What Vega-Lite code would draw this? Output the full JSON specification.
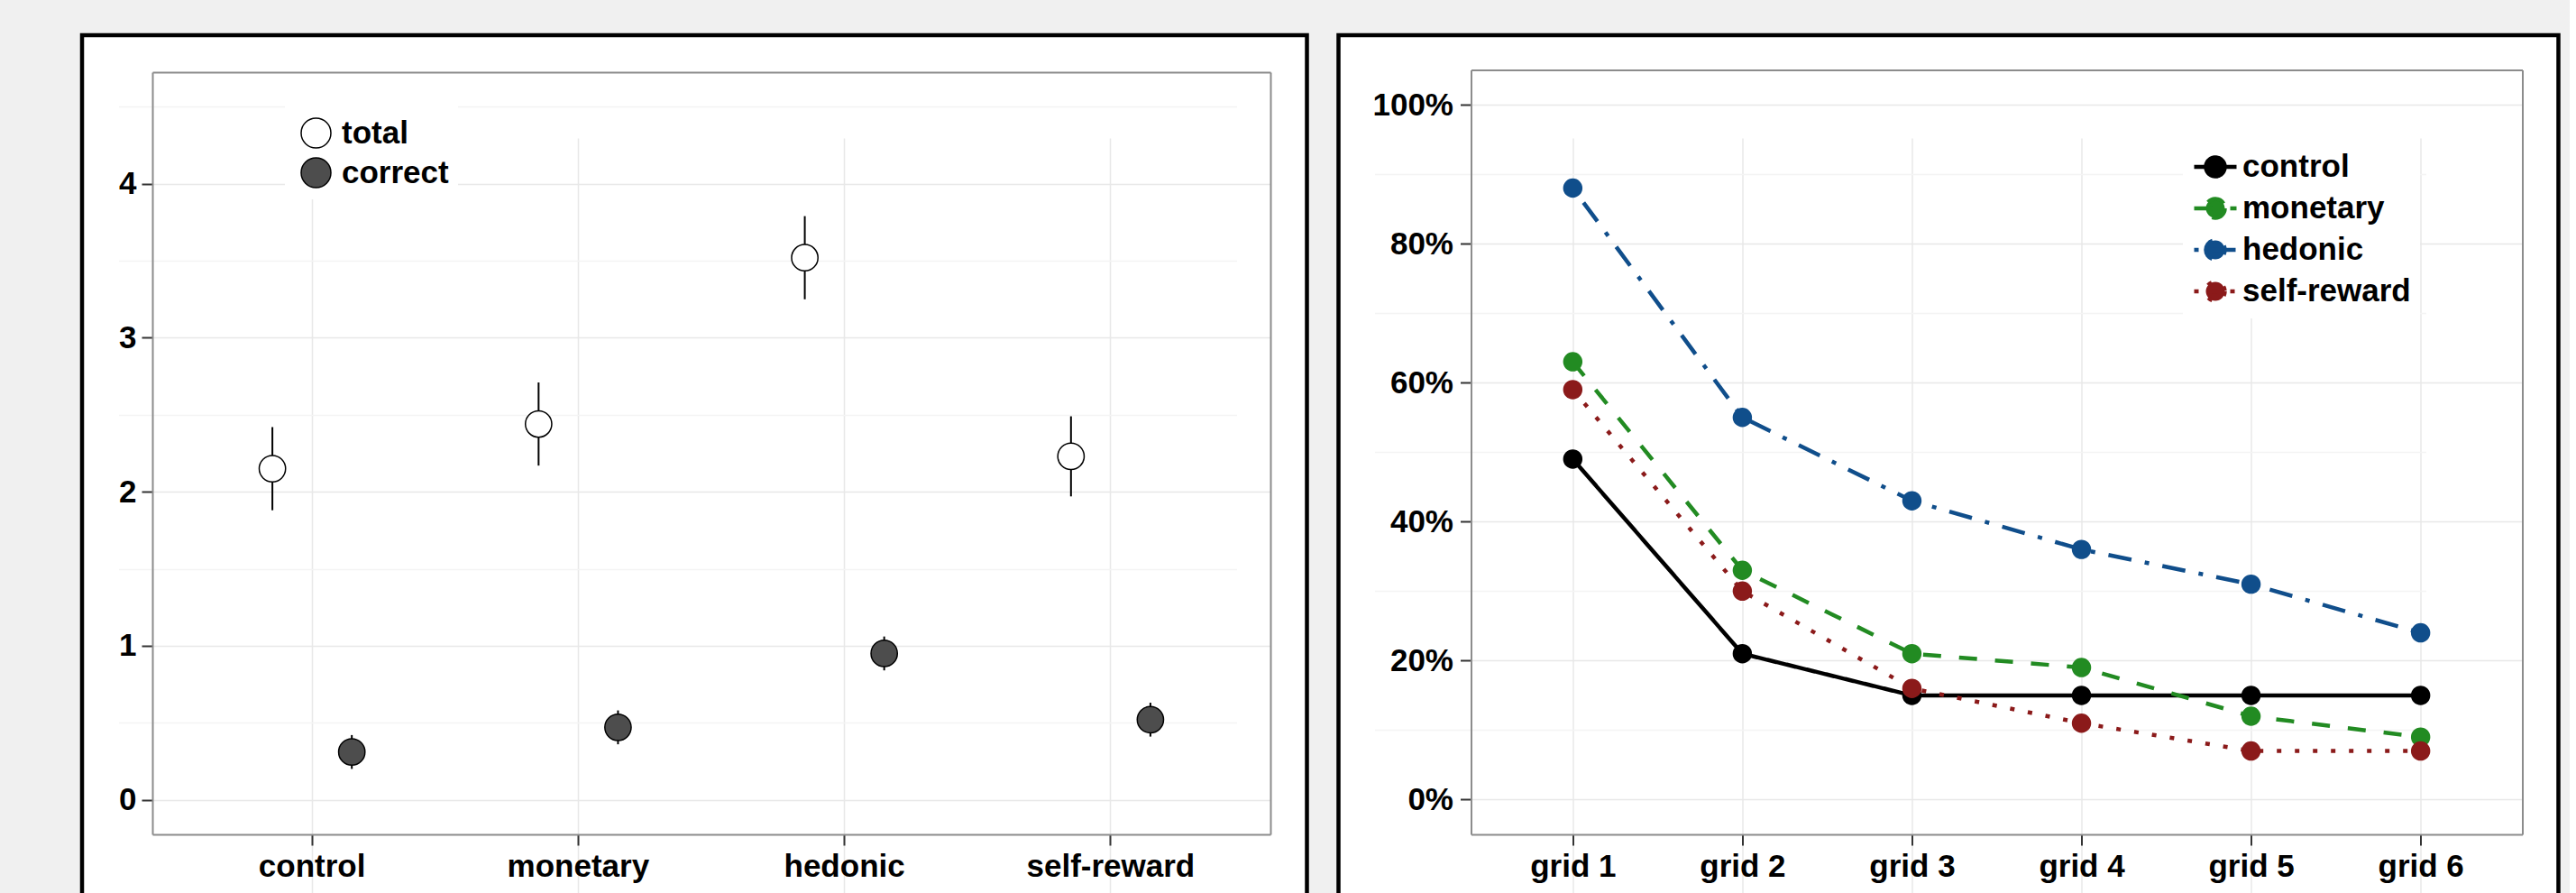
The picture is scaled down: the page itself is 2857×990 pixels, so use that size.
{
  "$schema": "https://vega.github.io/schema/vega-lite/v6.json",
  "background": "#f0f0f0",
  "padding": {"left": 88, "top": 36, "right": 10, "bottom": 0},
  "spacing": 29.5,
  "config": {
    "view": {"stroke": "#000000", "strokeWidth": 4.5, "fill": "#ffffff"},
    "font": "Liberation Sans",
    "axis": {
      "title": null,
      "labelFont": "Liberation Sans",
      "labelFontSize": 35,
      "labelFontWeight": "bold",
      "labelColor": "#000000",
      "labelLimit": 0,
      "tickColor": "#333333",
      "tickWidth": 2,
      "tickSize": 12,
      "domainColor": "#8c8c8c",
      "domainWidth": 2,
      "gridColor": "#e8e8e8",
      "gridWidth": 1.5
    },
    "legend": {
      "title": null,
      "orient": "none",
      "labelFont": "Liberation Sans",
      "labelFontSize": 35,
      "labelFontWeight": "bold",
      "labelColor": "#000000",
      "labelLimit": 0,
      "fillColor": "#ffffff",
      "padding": 10,
      "rowPadding": 0,
      "labelOffset": 4,
      "symbolSize": 2209
    }
  },
  "hconcat": [
    {
      "width": 1358.5,
      "height": 1000,
      "data": {
        "values": [
          {"condition": "control", "measure": "total", "mean": 2.15, "lo": 1.88, "hi": 2.42},
          {"condition": "monetary", "measure": "total", "mean": 2.44, "lo": 2.17, "hi": 2.71},
          {"condition": "hedonic", "measure": "total", "mean": 3.52, "lo": 3.25, "hi": 3.79},
          {"condition": "self-reward", "measure": "total", "mean": 2.23, "lo": 1.97, "hi": 2.49},
          {"condition": "control", "measure": "correct", "mean": 0.31, "lo": 0.2, "hi": 0.42},
          {"condition": "monetary", "measure": "correct", "mean": 0.47, "lo": 0.36, "hi": 0.58},
          {"condition": "hedonic", "measure": "correct", "mean": 0.95, "lo": 0.84, "hi": 1.06},
          {"condition": "self-reward", "measure": "correct", "mean": 0.52, "lo": 0.41, "hi": 0.63}
        ]
      },
      "resolve": {"axis": {"x": "independent", "y": "independent"}},
      "layer": [
        {
          "mark": {"type": "rule", "stroke": "#000000", "strokeWidth": 2},
          "encoding": {
            "x": {
              "field": "condition", "type": "nominal",
              "sort": ["control", "monetary", "hedonic", "self-reward"],
              "scale": {"type": "band", "range": [78, 1318], "paddingInner": 0, "paddingOuter": 0.1},
              "axis": {"orient": "bottom", "offset": -114, "grid": true, "bandPosition": 0.5, "labelAngle": 0, "labelPadding": 6}
            },
            "xOffset": {
              "field": "measure", "sort": ["total", "correct"],
              "scale": {"paddingInner": 0, "paddingOuter": 0.676}
            },
            "y": {
              "field": "lo", "type": "quantitative",
              "scale": {"domain": [-0.225, 4.725], "range": [886, 41], "nice": false, "zero": false},
              "axis": {"orient": "left", "offset": -78, "values": [0, 1, 2, 3, 4], "grid": true, "labelPadding": 6}
            },
            "y2": {"field": "hi"}
          }
        },
        {
          "mark": {"type": "point", "shape": "circle", "filled": true, "size": 855, "stroke": "#000000", "strokeWidth": 1.5, "opacity": 1},
          "encoding": {
            "x": {
              "field": "condition", "type": "nominal",
              "sort": ["control", "monetary", "hedonic", "self-reward"],
              "scale": {"type": "band", "range": [78, 1318], "paddingInner": 0, "paddingOuter": 0.1},
              "axis": {"orient": "top", "offset": -41, "grid": false, "ticks": false, "labels": false}
            },
            "xOffset": {
              "field": "measure", "sort": ["total", "correct"],
              "scale": {"paddingInner": 0, "paddingOuter": 0.676}
            },
            "y": {
              "field": "mean", "type": "quantitative",
              "scale": {"domain": [-0.225, 4.725], "range": [886, 41], "nice": false, "zero": false},
              "axis": {"orient": "right", "offset": -40.5, "values": [0.5, 1.5, 2.5, 3.5, 4.5], "grid": true, "gridColor": "#f4f4f4", "ticks": false, "labels": false}
            },
            "fill": {
              "field": "measure", "type": "nominal",
              "scale": {"domain": ["total", "correct"], "range": ["#ffffff", "#4d4d4d"]},
              "legend": {
                "legendX": 225, "legendY": 74,
                "symbolType": "M 0.702 0 A 0.702 0.702 0 1 1 -0.702 0 A 0.702 0.702 0 1 1 0.702 0 Z",
                "symbolStrokeColor": "#000000", "symbolStrokeWidth": 1.5
              }
            }
          }
        }
      ]
    },
    {
      "width": 1353,
      "height": 1000,
      "data": {
        "values": [
          {"condition": "control", "grid": "grid 1", "share": 0.49},
          {"condition": "control", "grid": "grid 2", "share": 0.21},
          {"condition": "control", "grid": "grid 3", "share": 0.15},
          {"condition": "control", "grid": "grid 4", "share": 0.15},
          {"condition": "control", "grid": "grid 5", "share": 0.15},
          {"condition": "control", "grid": "grid 6", "share": 0.15},
          {"condition": "monetary", "grid": "grid 1", "share": 0.63},
          {"condition": "monetary", "grid": "grid 2", "share": 0.33},
          {"condition": "monetary", "grid": "grid 3", "share": 0.21},
          {"condition": "monetary", "grid": "grid 4", "share": 0.19},
          {"condition": "monetary", "grid": "grid 5", "share": 0.12},
          {"condition": "monetary", "grid": "grid 6", "share": 0.09},
          {"condition": "hedonic", "grid": "grid 1", "share": 0.88},
          {"condition": "hedonic", "grid": "grid 2", "share": 0.55},
          {"condition": "hedonic", "grid": "grid 3", "share": 0.43},
          {"condition": "hedonic", "grid": "grid 4", "share": 0.36},
          {"condition": "hedonic", "grid": "grid 5", "share": 0.31},
          {"condition": "hedonic", "grid": "grid 6", "share": 0.24},
          {"condition": "self-reward", "grid": "grid 1", "share": 0.59},
          {"condition": "self-reward", "grid": "grid 2", "share": 0.3},
          {"condition": "self-reward", "grid": "grid 3", "share": 0.16},
          {"condition": "self-reward", "grid": "grid 4", "share": 0.11},
          {"condition": "self-reward", "grid": "grid 5", "share": 0.07},
          {"condition": "self-reward", "grid": "grid 6", "share": 0.07}
        ]
      },
      "resolve": {"axis": {"x": "independent", "y": "independent"}},
      "layer": [
        {
          "mark": {"type": "line", "strokeWidth": 4.5, "strokeCap": "butt"},
          "encoding": {
            "x": {
              "field": "grid", "type": "ordinal",
              "scale": {"type": "point", "range": [147, 1313], "padding": 0.6},
              "axis": {"orient": "bottom", "offset": -114, "grid": true, "labelAngle": 0, "labelPadding": 6}
            },
            "y": {
              "field": "share", "type": "quantitative",
              "scale": {"domain": [-0.05, 1.05], "range": [886, 38.5], "nice": false, "zero": false},
              "axis": {"orient": "left", "offset": -147, "values": [0, 0.2, 0.4, 0.6, 0.8, 1], "format": ".0%", "grid": true, "labelPadding": 8}
            },
            "color": {
              "field": "condition", "type": "nominal",
              "scale": {"domain": ["control", "monetary", "hedonic", "self-reward"], "range": ["#000000", "#228b22", "#104e8b", "#8b1a1a"]},
              "legend": {
                "legendX": 2330, "legendY": 110,
                "symbolType": "M -1 0 L 1 0 M 0.447 0 A 0.447 0.447 0 1 1 -0.447 0 A 0.447 0.447 0 1 1 0.447 0 Z",
                "symbolStrokeWidth": 4.5
              }
            },
            "strokeDash": {
              "field": "condition", "type": "nominal",
              "scale": {"domain": ["control", "monetary", "hedonic", "self-reward"], "range": [[1, 0], [20, 20], [5, 15, 26, 15], [5, 15]]},
              "legend": {
                "legendX": 2330, "legendY": 110,
                "symbolType": "M -1 0 L 1 0 M 0.447 0 A 0.447 0.447 0 1 1 -0.447 0 A 0.447 0.447 0 1 1 0.447 0 Z",
                "symbolStrokeWidth": 4.5
              }
            }
          }
        },
        {
          "mark": {"type": "circle", "size": 460, "opacity": 1},
          "encoding": {
            "x": {
              "field": "grid", "type": "ordinal",
              "scale": {"type": "point", "range": [147, 1313], "padding": 0.6},
              "axis": {"orient": "top", "offset": -38.5, "grid": false, "ticks": false, "labels": false}
            },
            "y": {
              "field": "share", "type": "quantitative",
              "scale": {"domain": [-0.05, 1.05], "range": [886, 38.5], "nice": false, "zero": false},
              "axis": {"orient": "right", "offset": -40, "values": [0.1, 0.3, 0.5, 0.7, 0.9], "grid": true, "gridColor": "#f4f4f4", "ticks": false, "labels": false}
            },
            "color": {
              "field": "condition", "type": "nominal",
              "scale": {"domain": ["control", "monetary", "hedonic", "self-reward"], "range": ["#000000", "#228b22", "#104e8b", "#8b1a1a"]},
              "legend": {
                "legendX": 2330, "legendY": 110,
                "symbolType": "M -1 0 L 1 0 M 0.447 0 A 0.447 0.447 0 1 1 -0.447 0 A 0.447 0.447 0 1 1 0.447 0 Z",
                "symbolStrokeWidth": 4.5
              }
            }
          }
        }
      ]
    }
  ]
}
